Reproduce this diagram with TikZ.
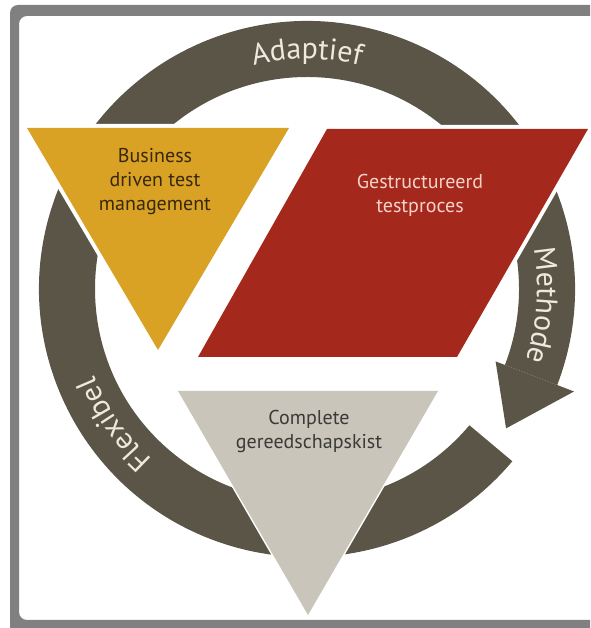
\documentclass[tikz,border=0pt]{standalone}
\usepackage{fontspec}
\setmainfont{PT Sans}
\usetikzlibrary{decorations.text}
\definecolor{ringgrey}{RGB}{90,85,70}
\definecolor{ringink}{RGB}{238,233,222}
\definecolor{gold}{RGB}{217,162,36}
\definecolor{goldink}{RGB}{56,40,14}
\definecolor{brick}{RGB}{165,40,28}
\definecolor{brickink}{RGB}{246,210,200}
\definecolor{stone}{RGB}{202,197,187}
\definecolor{stoneink}{RGB}{58,58,55}
\definecolor{framegrey}{RGB}{128,128,128}
\newcommand\ringfont{\fontsize{30}{30}\selectfont}
\tikzset{
x=1pt, y=1pt, % one unit is one pixel of the sketch
panel/.style={preaction={draw=white, line width=#1, line join=round}}, % white rim round every panel
panel/.default=8pt,
paneltext/.style={align=center, font=\fontsize{20}{24}\selectfont}, % words inside a panel
ringtext/.style={decorate, decoration={text along path, text align=center, text color=ringink}}, % words riding on the ring
}

\begin{document}
\begin{tikzpicture}
        \useasboundingbox (0,0) rectangle (590,628);
        \clip (0,0) rectangle (590,628);
        % frame: top, left and bottom bands only
        \fill[framegrey, even odd rule, rounded corners=8] (10,-20) rectangle (640,623)
          (19,8) rectangle (630,612);

        % the ring, running clockwise and ending in a head
        \begin{scope}[shift={(307,339)}]
          \fill[ringgrey] (-21:268) arc[start angle=-21, end angle=320, radius=268]
            -- (320:212) arc[start angle=320, end angle=-21, radius=212] -- cycle;
          \fill[ringgrey] (-21:202) -- (-21:286) -- (-35:243) -- cycle;
          \path[ringtext, decoration={text={|\ringfont|Adaptief}}] (150:230) arc[start angle=150, end angle=30, radius=230];
          \path[ringtext, decoration={text={|\ringfont|Methode}}] (41:230) arc[start angle=41, end angle=-49, radius=230];
          \path[ringtext, decoration={text={|\ringfont|Flexibel}}] (260:230) arc[start angle=260, end angle=170, radius=230];
        \end{scope}

        % the three panels
        \fill[panel, fill=gold] (27,500) -- (289,500) -- (158,278) -- cycle;
        \fill[panel, fill=brick] (327,499) -- (588,499) -- (457,271) -- (198,271) -- cycle;
        \fill[panel=3pt, fill=stone] (178,237) -- (438,237) -- (308,13) -- cycle;

        \node[paneltext, text=goldink] (business) at (155,446) {Business\\driven test\\management};
        \node[paneltext, text=brickink] (proces) at (420,433) {Gestructureerd\\testproces};
        \node[paneltext, text=stoneink] (kist) at (309,196) {Complete\\gereedschapskist};
      \end{tikzpicture}
\end{document}
